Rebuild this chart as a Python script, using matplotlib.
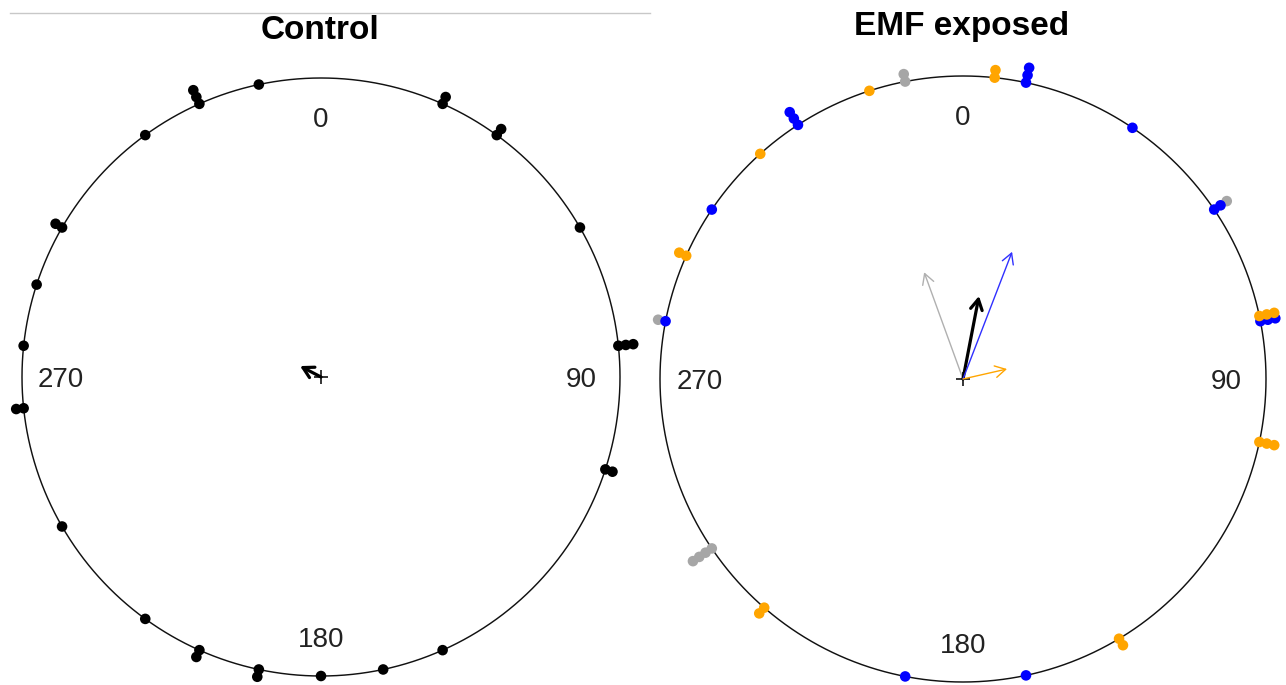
import numpy as np
import matplotlib
matplotlib.use("Agg")
import matplotlib.pyplot as plt
from matplotlib.lines import Line2D

# ---------------- data (angles in degrees, clockwise from north) ----------------
control_angles = [348, 336, 336, 336, 324, 300, 300, 288, 276, 264, 264, 240, 216,
                  204, 204, 192, 192, 180, 168, 156, 108, 108, 84, 84, 84, 60,
                  36, 36, 24, 24]
control_arrow_dir = 297.6
control_arrow_rho = 0.079

emf_blue = [12, 12, 12, 34, 56, 56, 79, 79, 79, 168, 191, 281, 304, 327, 327, 327]
emf_orange = [6, 6, 78, 78, 78, 102, 102, 102, 149, 149, 221, 221, 294, 294, 318, 342]
emf_gray = [56, 236, 236, 236, 236, 281, 349, 349]

emf_arrow_names = ["gray", "all", "blue", "orange"]
emf_arrow_dirs = [340.0, 10.9, 21.1, 77.2]
emf_arrow_rhos = [0.375, 0.279, 0.45, 0.149]

axis_labels = ["0", "90", "180", "270"]
axis_label_angles = [0, 90, 180, 270]
titles = ["Control", "EMF exposed"]

# ---------------- styling ----------------
W, H, DPI = 1286, 685, 100
COL = {"blue": "#0000FF", "orange": "#FFA500", "gray": "#A6A6A6", "black": "#000000"}
ARROW_COL = {"gray": "#B0B0B0", "all": "#000000", "blue": "#3030FF", "orange": "#FFA500"}
ARROW_LW = {"gray": 1.0, "all": 2.3, "blue": 1.0, "orange": 1.0}
SEP = 0.025
LABEL_FS = 20
FONT = ["Liberation Sans", "DejaVu Sans"]

fig = plt.figure(figsize=(W / DPI, H / DPI), dpi=DPI)
fig.patch.set_facecolor("white")

# faint top rule seen in the reference screenshot
fig.add_artist(Line2D([10 / W, 650 / W], [1 - 13 / H, 1 - 13 / H],
                      color="#C8C8C8", lw=1.0))


def make_ax(left_px, right_px, cx, cy, r):
    ax = fig.add_axes([left_px / W, 0, (right_px - left_px) / W, 1])
    ax.set_xlim((left_px - cx) / r, (right_px - cx) / r)
    ax.set_ylim((cy - H) / r, cy / r)
    ax.axis("off")
    return ax


def draw_base(ax, r_px):
    t = np.radians(np.linspace(0, 360, 721))
    ax.plot(np.sin(t), np.cos(t), color="#111111", lw=1.05, zorder=1,
            solid_capstyle="butt", solid_joinstyle="round")
    ax.plot(0, 0, marker="+", ms=10, mew=1.1, color="black", zorder=6)
    em = LABEL_FS * DPI / 72.0
    for lab, a in zip(axis_labels, axis_label_angles):
        th = np.radians(a)
        ax.text(0.87 * np.sin(th), 0.87 * np.cos(th) - 0.36 * em / r_px, lab,
                ha="center", va="baseline", fontsize=LABEL_FS, color="#222222",
                family=FONT, zorder=7)


def stacked_points(ax, groups, zorders):
    counts = {}
    for name, angles in groups:
        xs, ys = [], []
        for a in angles:
            k = counts.get(a, 0)
            counts[a] = k + 1
            rr = 1 + k * SEP
            th = np.radians(a)
            xs.append(rr * np.sin(th))
            ys.append(rr * np.cos(th))
        ax.scatter(xs, ys, s=58, color=COL[name], edgecolors="none",
                   zorder=zorders[name])


def arrow(ax, direction, rho, color, lw):
    th = np.radians(direction)
    ax.annotate("", xy=(rho * np.sin(th), rho * np.cos(th)), xytext=(0, 0),
                arrowprops=dict(arrowstyle="->,head_length=0.75,head_width=0.42",
                                mutation_scale=10, lw=lw, color=color,
                                shrinkA=0, shrinkB=0),
                zorder=8)


# ---------------- Control ----------------
cxL, cyL, rL = 321, 377, 299
axL = make_ax(0, 643, cxL, cyL, rL)
draw_base(axL, rL)
stacked_points(axL, [("black", control_angles)], {"black": 3})
arrow(axL, control_arrow_dir, control_arrow_rho, "black", 2.3)
fig.text(320 / W, 1 - 39 / H, titles[0], ha="center", va="baseline",
         fontsize=24, fontweight="bold", family=FONT)

# ---------------- EMF exposed ----------------
cxR, cyR, rR = 963, 379, 303
axR = make_ax(643, 1286, cxR, cyR, rR)
draw_base(axR, rR)
stacked_points(axR, [("blue", emf_blue), ("orange", emf_orange), ("gray", emf_gray)],
               {"gray": 2, "blue": 3, "orange": 4})
for name, d, rho in zip(emf_arrow_names, emf_arrow_dirs, emf_arrow_rhos):
    arrow(axR, d, rho, ARROW_COL[name], ARROW_LW[name])
fig.text(962 / W, 1 - 35 / H, titles[1], ha="center", va="baseline",
         fontsize=24, fontweight="bold", family=FONT)

fig.savefig("out.png", dpi=DPI, facecolor="white")
